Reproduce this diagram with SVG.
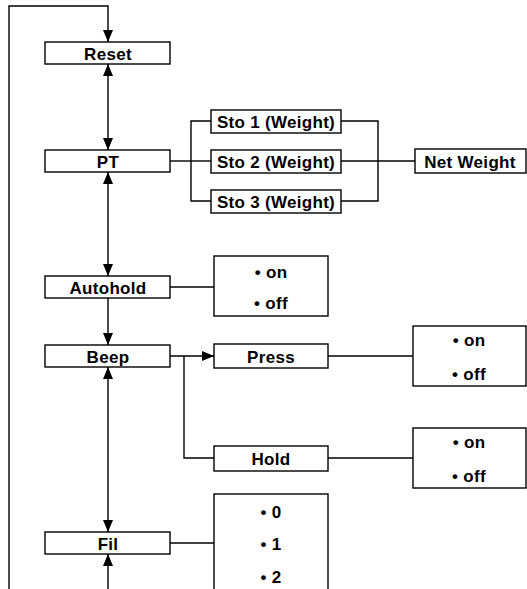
<svg xmlns="http://www.w3.org/2000/svg" width="527" height="589" viewBox="0 0 527 589">
<defs>
<marker id="ah" viewBox="0 0 12 10" refX="12" refY="5" markerWidth="12" markerHeight="10" markerUnits="userSpaceOnUse" orient="auto-start-reverse">
<path d="M0,0 L12,5 L0,10 Z" fill="#000"/>
</marker>
</defs>
<style>
.b{fill:#fff;stroke:#000;stroke-width:1.4}
.t{font-family:"Liberation Sans",Arial,sans-serif;font-weight:bold;font-size:17px;letter-spacing:0.3px;text-anchor:middle;fill:#000}
.c{fill:none;stroke:#000;stroke-width:1.4}
</style>
<rect width="527" height="589" fill="#fff"/>
<g id="connectors">
<polyline class="c" points="9,589 9,6 108,6 108,42" marker-end="url(#ah)"/>
<line class="c" x1="108" y1="64" x2="108" y2="150" marker-start="url(#ah)" marker-end="url(#ah)"/>
<line class="c" x1="108" y1="172" x2="108" y2="276" marker-start="url(#ah)" marker-end="url(#ah)"/>
<line class="c" x1="108" y1="298" x2="108" y2="345" marker-end="url(#ah)"/>
<line class="c" x1="108" y1="367" x2="108" y2="532" marker-start="url(#ah)" marker-end="url(#ah)"/>
<line class="c" x1="108" y1="589" x2="108" y2="554" marker-end="url(#ah)"/>
<polyline class="c" points="170,161 191,161"/>
<polyline class="c" points="211,121 191,121 191,201 211,201"/>
<line class="c" x1="191" y1="161" x2="211" y2="161"/>
<polyline class="c" points="341,121 378,121 378,201 341,201"/>
<line class="c" x1="341" y1="161" x2="415" y2="161"/>
<line class="c" x1="170" y1="287" x2="214" y2="287"/>
<line class="c" x1="170" y1="356" x2="214" y2="356" marker-end="url(#ah)"/>
<polyline class="c" points="184,356 184,458 214,458"/>
<line class="c" x1="328" y1="356" x2="413" y2="356"/>
<line class="c" x1="328" y1="458" x2="413" y2="458"/>
<line class="c" x1="170" y1="543" x2="214" y2="543"/>
</g>
<g id="reset"><rect class="b" x="45" y="42" width="125" height="22"/><text class="t" x="108" y="59.5">Reset</text></g>
<g id="pt"><rect class="b" x="45" y="150" width="125" height="22"/><text class="t" x="108" y="167.5">PT</text></g>
<g id="sto1"><rect class="b" x="211" y="110" width="130" height="23"/><text class="t" x="276" y="127.5">Sto 1 (Weight)</text></g>
<g id="sto2"><rect class="b" x="211" y="150" width="130" height="23"/><text class="t" x="276" y="167.5">Sto 2 (Weight)</text></g>
<g id="sto3"><rect class="b" x="211" y="190" width="130" height="23"/><text class="t" x="276" y="207.5">Sto 3 (Weight)</text></g>
<g id="netweight"><rect class="b" x="415" y="149" width="111" height="24"/><text class="t" x="470" y="167.5">Net Weight</text></g>
<g id="autohold"><rect class="b" x="45" y="276" width="125" height="22"/><text class="t" x="108" y="293.5">Autohold</text></g>
<g id="autohold-opts"><rect class="b" x="214" y="256" width="114" height="60"/><text class="t" x="271" y="277.5">• on</text><text class="t" x="271" y="308.5">• off</text></g>
<g id="beep"><rect class="b" x="45" y="345" width="125" height="22"/><text class="t" x="108" y="362.5">Beep</text></g>
<g id="press"><rect class="b" x="214" y="344" width="114" height="24"/><text class="t" x="271" y="362.5">Press</text></g>
<g id="press-opts"><rect class="b" x="413" y="326" width="113" height="60"/><text class="t" x="469" y="345.5">• on</text><text class="t" x="469" y="379.5">• off</text></g>
<g id="hold"><rect class="b" x="214" y="446" width="114" height="25"/><text class="t" x="271" y="464.5">Hold</text></g>
<g id="hold-opts"><rect class="b" x="413" y="428" width="113" height="60"/><text class="t" x="469" y="447.5">• on</text><text class="t" x="469" y="481.5">• off</text></g>
<g id="fil"><rect class="b" x="45" y="532" width="125" height="22"/><text class="t" x="108" y="549.5">Fil</text></g>
<g id="fil-opts"><rect class="b" x="214" y="494" width="114" height="110"/><text class="t" x="271" y="517.5">• 0</text><text class="t" x="271" y="549.5">• 1</text><text class="t" x="271" y="582.5">• 2</text></g>
</svg>
